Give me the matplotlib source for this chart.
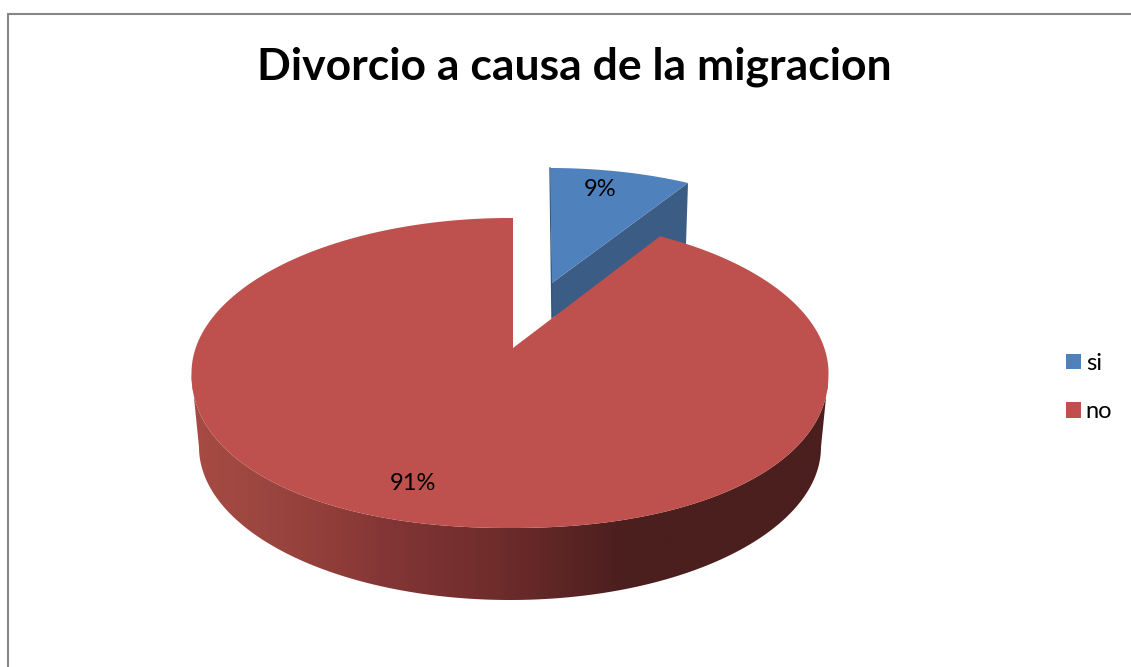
#!/usr/bin/python3

import numpy as np
import matplotlib
matplotlib.use("Agg")
import matplotlib.pyplot as plt
from matplotlib.colors import LinearSegmentedColormap
from matplotlib.patches import Patch, Polygon

title = "Divorcio a causa de la migracion"
categories = ["si", "no"]
values = [9, 91]
pct_labels = ["9%", "91%"]

plt.rcParams['font.family'] = ['Lato', 'DejaVu Sans']

fig = plt.figure(figsize=(11.31, 6.67), dpi=100)
ax = fig.add_axes([0, 0, 1, 1])
ax.axis("off")


### the view tilts the pie so the apparent angles differ a bit from the real ones
def apparent(deg):
    return deg - 4.75 * np.sin(np.radians(2 * deg))


def arc(cx, cy, rx, ry, deg):
    t = np.radians(deg)
    return np.column_stack([cx + rx * np.sin(t), cy - ry * np.cos(t)])


# near edge of the top face bulges a bit more than a true ellipse
def top_face(cx, cy, rx, ry, deg, p=2.15):
    t = np.radians(deg)
    s, c = np.sin(t), np.cos(t)
    near = c < 0
    s2 = np.where(near, np.sign(s) * np.abs(s) ** (2 / p), s)
    c2 = np.where(near, np.sign(c) * np.abs(c) ** (2 / p), c)
    return np.column_stack([cx + rx * s2, cy - ry * c2])


sweep_si = 360.0 * values[0] / sum(values)
t_si = apparent(np.linspace(0, sweep_si, 40))
t_no = apparent(np.linspace(sweep_si, 360, 400))

# blue slice, pulled out of the pie
top_si = arc(550, 295, 293, 127, t_si)
end_si = top_si[-1]
side_si = [(552, 283), end_si, (686, 244), (552, 318)]
ax.add_patch(Polygon(side_si, closed=True, fc="#3A5C85", ec="none", zorder=1))
ax.add_patch(Polygon(np.vstack([[(552, 283)], top_si]), closed=True, fc="#4F81BD",
                     ec="none", zorder=2))
ax.plot([550, 552], [168, 318], color="#34547A", lw=1, zorder=1.5)

# red wall, gradient clipped to the ring between the two ellipses
front = np.linspace(90, 270, 300)
wall = np.vstack([top_face(510, 373, 318.5, 155, front), arc(510, 447, 311, 153, front[::-1])])
wall_patch = Polygon(wall, closed=True, fc="none", ec="none", transform=ax.transData)
ax.add_patch(wall_patch)
wall_cmap = LinearSegmentedColormap.from_list("wall", [(0, "#A64B43"), (0.11, "#9C4640"),
                                                       (0.234, "#8F3C39"), (0.297, "#843636"),
                                                       (0.485, "#6E2C2B"), (0.677, "#4B1F1E"),
                                                       (1, "#4B1F1E")])
grad = ax.imshow(np.linspace(0, 1, 256).reshape(1, -1), cmap=wall_cmap, aspect="auto",
                 extent=[191, 828, 600, 373], zorder=3)
grad.set_clip_path(wall_patch)

# red top
top_no = top_face(510, 373, 318.5, 155, t_no)
ax.add_patch(Polygon(np.vstack([[(513, 348)], top_no, [(513, 218)]]), closed=True, fc="#BE504D",
                     ec="none", zorder=4))

# data labels
ax.text(600, 189, pct_labels[0], fontsize=17, ha="center", va="center", color="black", zorder=5)
ax.text(413, 483, pct_labels[1], fontsize=17, ha="center", va="center", color="black", zorder=5)

# chart title
ax.text(574.5, 67, title, fontsize=32, fontweight="bold", ha="center", va="center", color="black")

# chart border, only the top and left show in this crop
ax.plot([8, 8, 1131], [667, 14, 14], color="#868686", lw=1.5, solid_joinstyle="miter")

ax.set_xlim(0, 1131)
ax.set_ylim(667, 0)

handles = [Patch(fc="#4F81BD", ec="none"), Patch(fc="#C0504D", ec="none")]
ax.legend(handles, categories, loc="center left", bbox_to_anchor=(1066 / 1131, 1 - 387.5 / 667),
          frameon=False, fontsize=17, borderpad=0, borderaxespad=0, handlelength=0.64,
          handleheight=0.64, handletextpad=0.2, labelspacing=1.15)

fig.savefig("out.png", dpi=100)
